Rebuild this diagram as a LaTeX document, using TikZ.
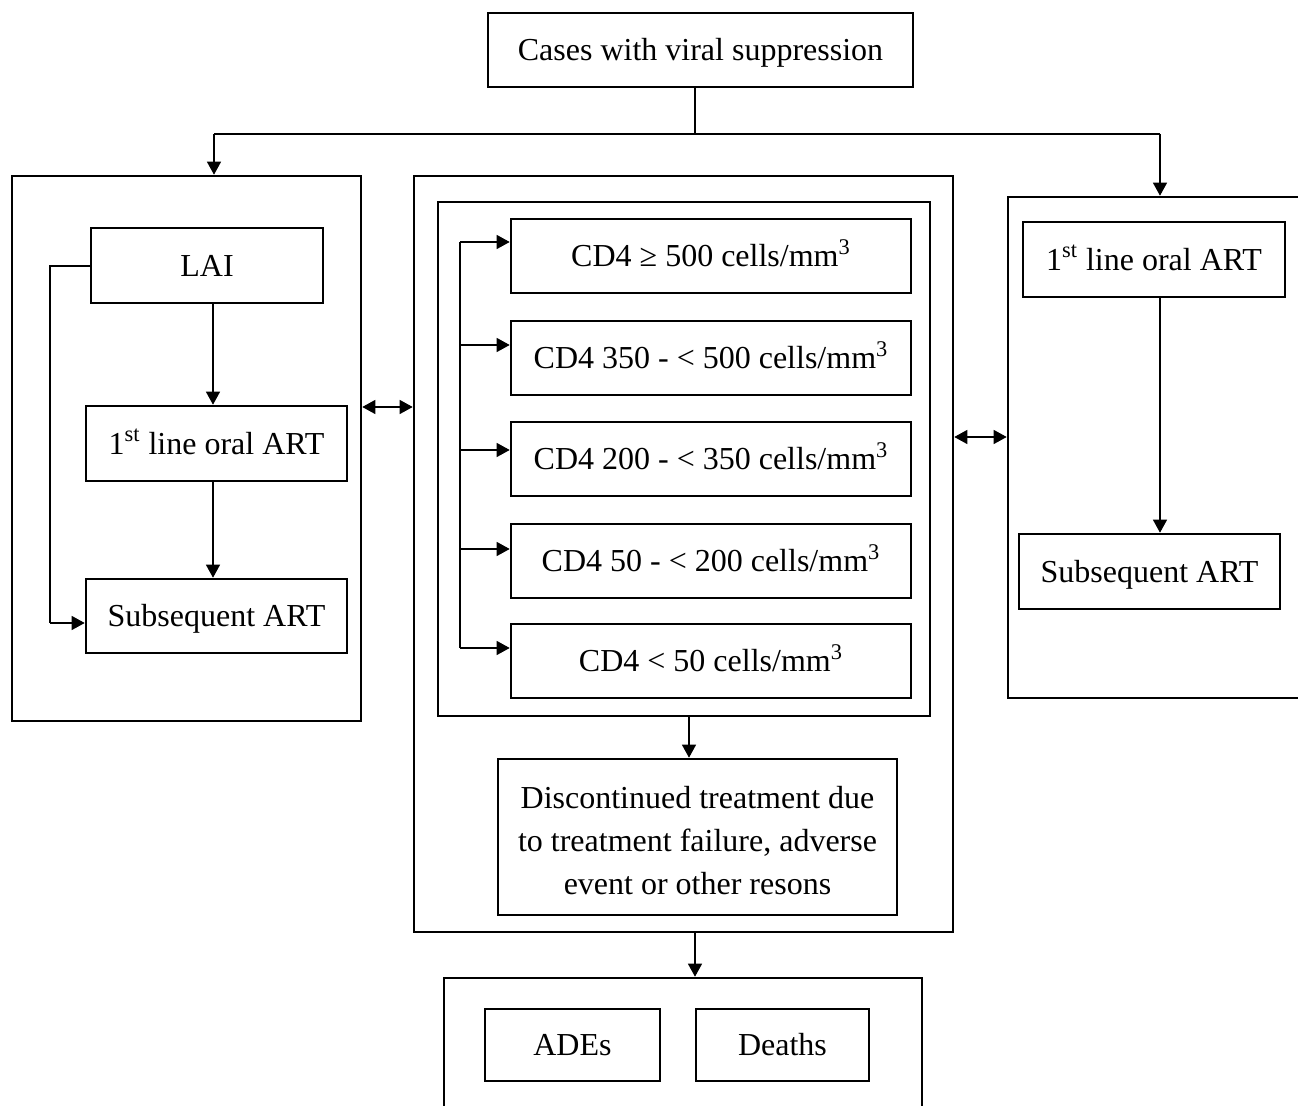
\documentclass[tikz,border=0pt]{standalone}
\usepackage{fontspec}
\setmainfont{Liberation Serif}
\usetikzlibrary{arrows.meta}
\begin{document}
\begin{tikzpicture}[x=0.5pt,y=-0.5pt,
  box/.style={draw,line width=1.3pt,inner sep=0pt,
    font=\fontsize{16}{21.5}\selectfont,text height=10.6pt,text depth=0pt},
  frame/.style={draw,line width=1.3pt,inner sep=0pt},
  txt/.style={inner sep=0pt,align=center,font=\fontsize{16}{21.5}\selectfont},
  conn/.style={line width=0.6pt},
  arr/.style={conn,-{Triangle[length=6.5pt,width=7pt]}},
  darr/.style={conn,{Triangle[length=6.5pt,width=7pt]}-{Triangle[length=6.5pt,width=7pt]}}]
\useasboundingbox (0,0) rectangle (1298,1106);
\clip (0,0) rectangle (1298,1106);
\fill[white] (0,0) rectangle (1298,1106);

% top
\node[box,minimum width=212.5pt,minimum height=37pt] (top) at (700.5,50) {Cases with viral suppression};

% left group
\node[frame,minimum width=174.5pt,minimum height=272.5pt] (L) at (186.5,448.5) {};
\node[box,minimum width=116pt,minimum height=37.5pt] (lai) at (207,265.5) {LAI};
\node[box,minimum width=130.5pt,minimum height=37.5pt] (l1) at (216.5,443.5) {1\textsuperscript{st} line oral ART};
\node[box,minimum width=130.5pt,minimum height=37pt] (lsub) at (216.5,616) {Subsequent ART};

% middle group
\node[frame,minimum width=269.5pt,minimum height=378pt] (M) at (683.5,554) {};
\node[frame,minimum width=246pt,minimum height=257pt] (I) at (684,459) {};
\node[box,minimum width=200pt,minimum height=37pt] (c1) at (711,256) {CD4 ≥ 500 cells/mm\textsuperscript{3}};
\node[box,minimum width=200pt,minimum height=37pt] (c2) at (711,358) {CD4 350 - < 500 cells/mm\textsuperscript{3}};
\node[box,minimum width=200pt,minimum height=37pt] (c3) at (711,459) {CD4 200 - < 350 cells/mm\textsuperscript{3}};
\node[box,minimum width=200pt,minimum height=37pt] (c4) at (711,561) {CD4 50 - < 200 cells/mm\textsuperscript{3}};
\node[box,minimum width=200pt,minimum height=37pt] (c5) at (711,661) {CD4 < 50 cells/mm\textsuperscript{3}};
\node[frame,minimum width=199.5pt,minimum height=78pt] (disc) at (697.5,837) {};
\node[txt] (disctext) at (697.5,841) {Discontinued treatment due\\to treatment failure, adverse\\event or other resons};

% right group
\node[frame,minimum width=156pt,minimum height=250.5pt] (R) at (1164,447.5) {};
\node[box,minimum width=131pt,minimum height=37.5pt] (r1) at (1154,259.5) {1\textsuperscript{st} line oral ART};
\node[box,minimum width=130.5pt,minimum height=37.5pt] (rsub) at (1149.5,571.5) {Subsequent ART};

% bottom group
\node[frame,minimum width=239pt,minimum height=76pt] (B) at (683,1054) {};
\node[box,minimum width=87.5pt,minimum height=36pt] (ade) at (572.5,1045) {ADEs};
\node[box,minimum width=86.5pt,minimum height=36pt] (death) at (782.5,1045) {Deaths};

% coordinates
\coordinate (tj) at (695,134);
\coordinate (tl) at (214,134);
\coordinate (tr) at (1160,134);
\coordinate (lx) at (50,266);
\coordinate (ly) at (50,623);
\coordinate (bx) at (460,242);
\coordinate (by) at (460,648);

% top connectors
\draw[conn] (top.south -| tj) -- (tj);
\draw[conn] (tl) -- (tr);
\draw[arr] (tl) -- (tl |- L.north);
\draw[arr] (tr) -- (tr |- R.north);

% left connectors
\draw[arr] ([xshift=3pt]lai.south) -- ([xshift=-1.75pt]l1.north);
\draw[arr] ([xshift=-1.75pt]l1.south) -- ([xshift=-1.75pt]lsub.north);
\draw[conn] (lai.west |- lx) -- (lx) -- (ly);
\draw[arr] (ly) -- (lsub.west |- ly);

% double arrows
\draw[darr] (L.east |- 0,407) -- (M.west |- 0,407);
\draw[darr] (M.east |- 0,437) -- (R.west |- 0,437);

% CD4 branch
\draw[conn] (bx) -- (by);
\draw[arr] (bx) -- (c1.west |- bx);
\draw[arr] (460,345) -- (c2.west |- 0,345);
\draw[arr] (460,450) -- (c3.west |- 0,450);
\draw[arr] (460,549) -- (c4.west |- 0,549);
\draw[arr] (by) -- (c5.west |- by);

% down arrows
\draw[arr] (I.south -| 689,0) -- (disc.north -| 689,0);
\draw[arr] (M.south -| 695,0) -- (B.north -| 695,0);
\draw[arr] (r1.south -| 1160,0) -- (rsub.north -| 1160,0);
\end{tikzpicture}
\end{document}
